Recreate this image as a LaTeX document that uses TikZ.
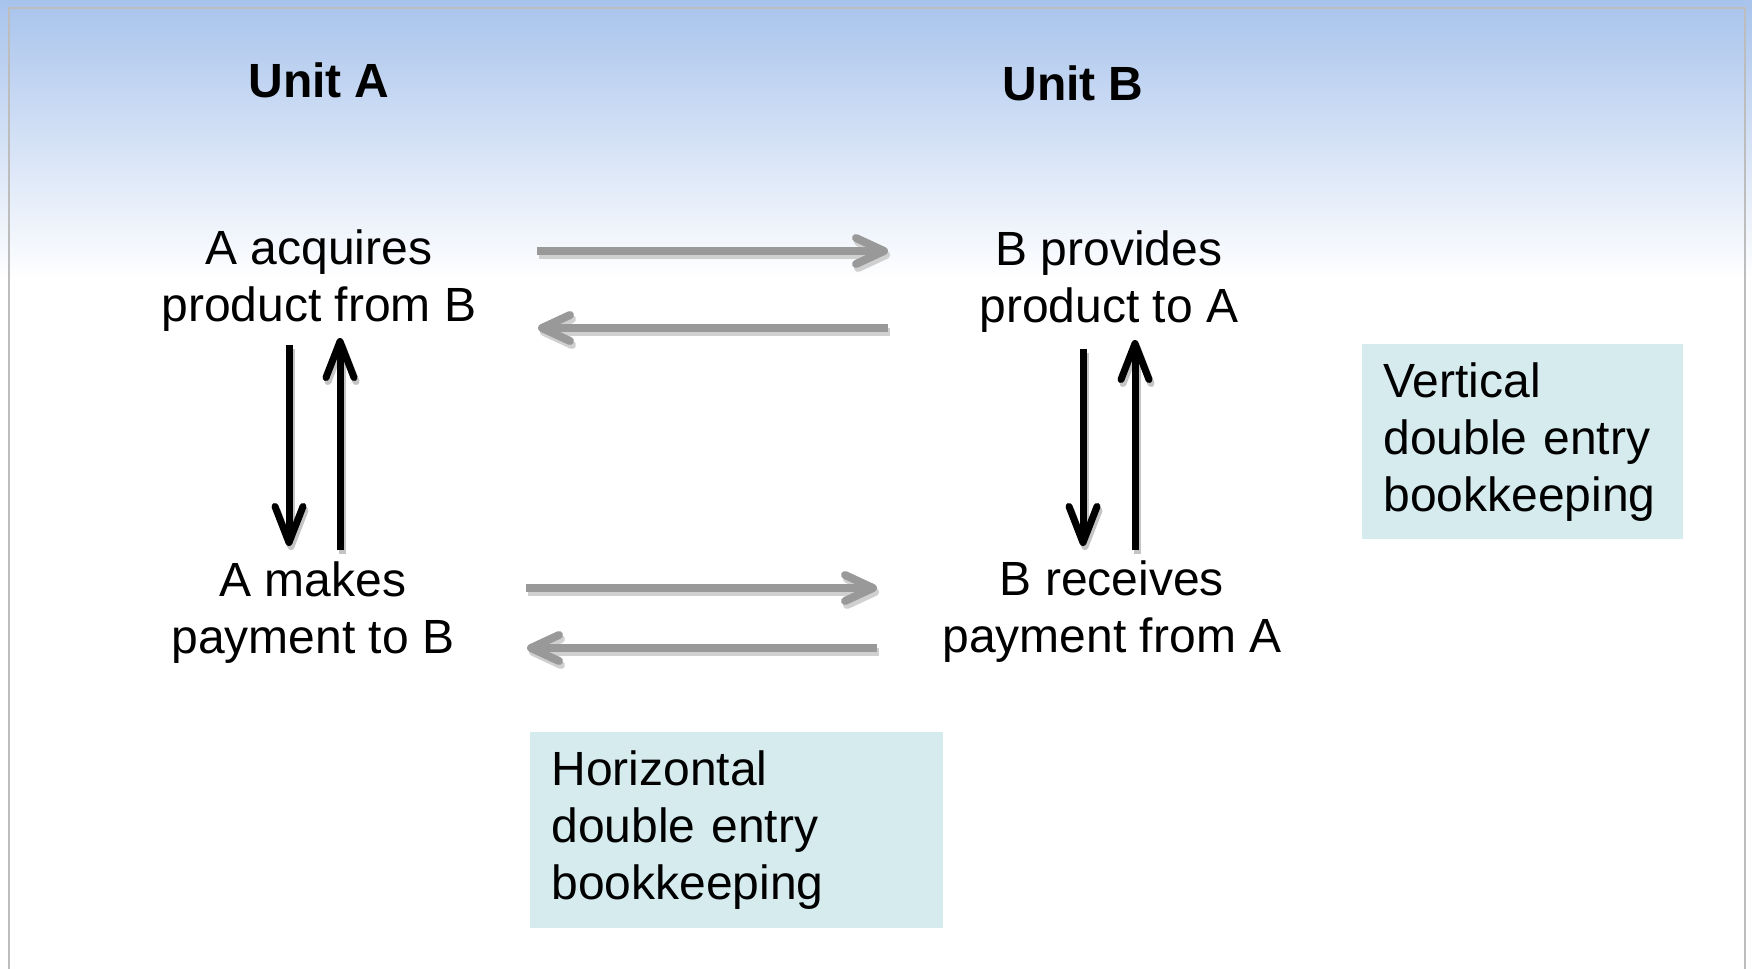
\documentclass[tikz,border=0pt]{standalone}
\usepackage{fontspec}
\setmainfont{Liberation Sans}
\usetikzlibrary{arrows.meta,calc}
\definecolor{skytop}{HTML}{A8C3EC}
\definecolor{boxfill}{HTML}{D6EBEE}
\definecolor{arrowgray}{HTML}{999999}
\definecolor{shadowgray}{HTML}{D0D0D0}
\definecolor{blackshadow}{HTML}{C4C4C4}
\definecolor{framegray}{HTML}{BDBDBD}
\begin{document}
\begin{tikzpicture}[x=0.5pt,y=-0.5pt,
  lbl/.style={inner sep=0pt, align=center, font=\fontsize{24}{28.5}\selectfont, anchor=base},
  unittitle/.style={inner sep=0pt, font=\bfseries\fontsize{24}{28.5}\selectfont, anchor=base},
  notebox/.style={fill=boxfill, align=left, font=\fontsize{24}{28.5}\selectfont, anchor=north west,
    inner xsep=10.5pt, inner ysep=0pt},
  garrow/.style={line width=4pt, draw=arrowgray, -{Straight Barb[length=14pt,width=13pt,round]}},
  gshadow/.style={line width=4pt, draw=shadowgray, -{Straight Barb[length=14pt,width=13pt,round]}},
  barrow/.style={line width=3.5pt, draw=black, -{Straight Barb[length=18pt,width=14pt,round]}},
  bshadow/.style={line width=3.5pt, draw=blackshadow, -{Straight Barb[length=18pt,width=14pt,round]}},
  shadowshift/.style={transform canvas={shift={(1pt,-2pt)}}},
]
\useasboundingbox (0,0) rectangle (1752,969);
\fill[white] (0,0) rectangle (1752,969);
\shade[top color=skytop, bottom color=white] (0,0) rectangle (1752,280);
\draw[framegray, line width=1pt] (9,969) -- (9,8) -- (1745,8) -- (1745,969);

% titles
\node[unittitle] (unitA) at (319,97) {Unit A};
\node[unittitle] (unitB) at (1073,100) {Unit B};

% statements (base anchor = baseline of the last line)
\node[lbl] (acq) at (319,321) {A acquires\\product from B};
\node[lbl] (prov) at (1109,322) {B provides\\product to A};
\node[lbl] (makes) at (313,653) {A makes\\payment to B};
\node[lbl] (recv) at (1112,652) {B receives\\payment from A};

% note boxes
\node[notebox, text width=139.5pt, minimum width=160.5pt, minimum height=97.5pt] (vert) at (1362,344)
  {Vertical\\double entry\\bookkeeping};
\node[notebox, text width=185.5pt, minimum width=206.5pt, minimum height=98pt] (horiz) at (530,732)
  {Horizontal\\double entry\\bookkeeping};

% shadows
\begin{scope}[shadowshift]
\draw[gshadow] ($(acq.base)+(218,-70)$) -- ($(prov.base)+(-221,-71)$);
\draw[gshadow] ($(prov.base)+(-221,6)$) -- ($(acq.base)+(219,7)$);
\draw[gshadow] ($(makes.base)+(213,-65)$) -- ($(recv.base)+(-235,-64)$);
\draw[gshadow] ($(recv.base)+(-235,-4)$) -- ($(makes.base)+(214,-5)$);
\draw[bshadow] ($(acq.base)+(-30,24)$) -- ($(makes.base)+(-24,-107)$);
\draw[bshadow] ($(makes.base)+(27,-103)$) -- ($(acq.base)+(21,17)$);
\draw[bshadow] ($(prov.base)+(-26,27)$) -- ($(recv.base)+(-29,-106)$);
\draw[bshadow] ($(recv.base)+(23,-102)$) -- ($(prov.base)+(26,18)$);
\end{scope}

% horizontal (gray) arrows
\draw[garrow] ($(acq.base)+(218,-70)$) -- ($(prov.base)+(-221,-71)$);
\draw[garrow] ($(prov.base)+(-221,6)$) -- ($(acq.base)+(219,7)$);
\draw[garrow] ($(makes.base)+(213,-65)$) -- ($(recv.base)+(-235,-64)$);
\draw[garrow] ($(recv.base)+(-235,-4)$) -- ($(makes.base)+(214,-5)$);

% vertical (black) arrows
\draw[barrow] ($(acq.base)+(-30,24)$) -- ($(makes.base)+(-24,-107)$);
\draw[barrow] ($(makes.base)+(27,-103)$) -- ($(acq.base)+(21,17)$);
\draw[barrow] ($(prov.base)+(-26,27)$) -- ($(recv.base)+(-29,-106)$);
\draw[barrow] ($(recv.base)+(23,-102)$) -- ($(prov.base)+(26,18)$);
\end{tikzpicture}
\end{document}
